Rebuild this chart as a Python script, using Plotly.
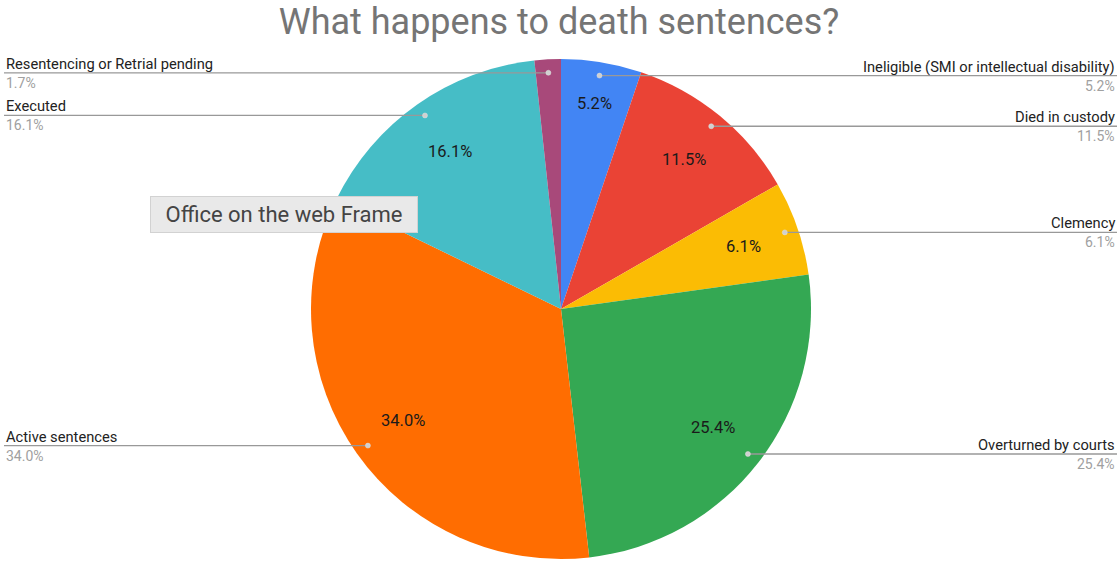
import math
import plotly.graph_objects as go

labels = ["Ineligible (SMI or intellectual disability)", "Died in custody", "Clemency",
          "Overturned by courts", "Active sentences", "Executed", "Resentencing or Retrial pending"]
values = [5.2, 11.5, 6.1, 25.4, 34.0, 16.1, 1.7]
colors = ["#4285F4", "#EA4335", "#FBBC04", "#34A853", "#FF6D01", "#46BDC6", "#A8497A"]
title_text = "What happens to death sentences?"

W, H = 1118, 561
cx, cy, R = 561, 309, 249
dom_x = [(cx - R - 1) / W, (cx + R + 1) / W]
dom_y = [1 - (cy + R + 1) / H, 1 - (cy - R - 1) / H]

fig = go.Figure(go.Pie(
    labels=labels, values=values, sort=False, direction="clockwise", rotation=0,
    marker=dict(colors=colors, line=dict(width=0)),
    textinfo="none",
    domain=dict(x=dom_x, y=dom_y), showlegend=False, hoverinfo="label+percent",
))

FONT = "Roboto, Arial"
shapes, annotations = [], []
total = sum(values)
cum = 0.0
for lab, v in zip(labels, values):
    frac = v / total
    mid = (cum + v / 2) / total * 2 * math.pi
    cum += v
    # inside percentage label
    if frac >= 0.03:
        rf = 0.775 if frac >= 0.055 else 0.835
        tx = cx + rf * R * math.sin(mid)
        ty = cy - rf * R * math.cos(mid)
        annotations.append(dict(xref="paper", yref="paper", x=tx / W, y=1 - ty / H,
                                xanchor="center", yanchor="middle", text=f"{frac * 100:.1f}%",
                                showarrow=False, font=dict(family=FONT, size=16.5, color="#1a1a1a")))
    # leader line + outside label
    r = 0.95 * R
    px = cx + r * math.sin(mid)
    py = cy - r * math.cos(mid)
    yp = 1 - py / H
    right = math.sin(mid) > 0
    xe = (W - 1) / W if right else 4 / W
    shapes.append(dict(type="line", xref="paper", yref="paper", x0=px / W, x1=xe, y0=yp, y1=yp,
                       line=dict(color="#999999", width=1.3)))
    shapes.append(dict(type="circle", xref="paper", yref="paper", xsizemode="pixel", ysizemode="pixel",
                       xanchor=px / W, yanchor=yp, x0=-2.5, x1=2.5, y0=-2.5, y1=2.5,
                       fillcolor="#d0d0d0", line=dict(color="#e0e0e0", width=0.5)))
    xa = "right" if right else "left"
    annotations.append(dict(xref="paper", yref="paper", x=xe, y=yp, xanchor=xa, yanchor="bottom",
                            yshift=-2, text=lab, showarrow=False,
                            font=dict(family=FONT, size=14.7, color="#222222")))
    annotations.append(dict(xref="paper", yref="paper", x=xe, y=yp, xanchor=xa, yanchor="top",
                            yshift=0, text=f"{v:.1f}%", showarrow=False,
                            font=dict(family=FONT, size=14, color="#a0a0a0")))

annotations.append(dict(xref="paper", yref="paper", x=150 / W, y=1 - 214.5 / H, xanchor="left", yanchor="middle",
                        text="Office on the web Frame", showarrow=False, align="center",
                        width=258, height=27,
                        font=dict(family=FONT, size=22, color="#444444"),
                        bgcolor="#e9e9e9", bordercolor="#d2d2d2", borderwidth=1, borderpad=4))

fig.update_layout(
    width=W, height=H, margin=dict(l=0, r=0, t=0, b=0),
    paper_bgcolor="white", plot_bgcolor="white",
    title=dict(text=title_text, x=0.5, xanchor="center", y=1 - 21 / H, yanchor="middle",
               font=dict(family=FONT, size=36, color="#757575")),
    shapes=shapes, annotations=annotations,
)
fig.write_html("out.html")
